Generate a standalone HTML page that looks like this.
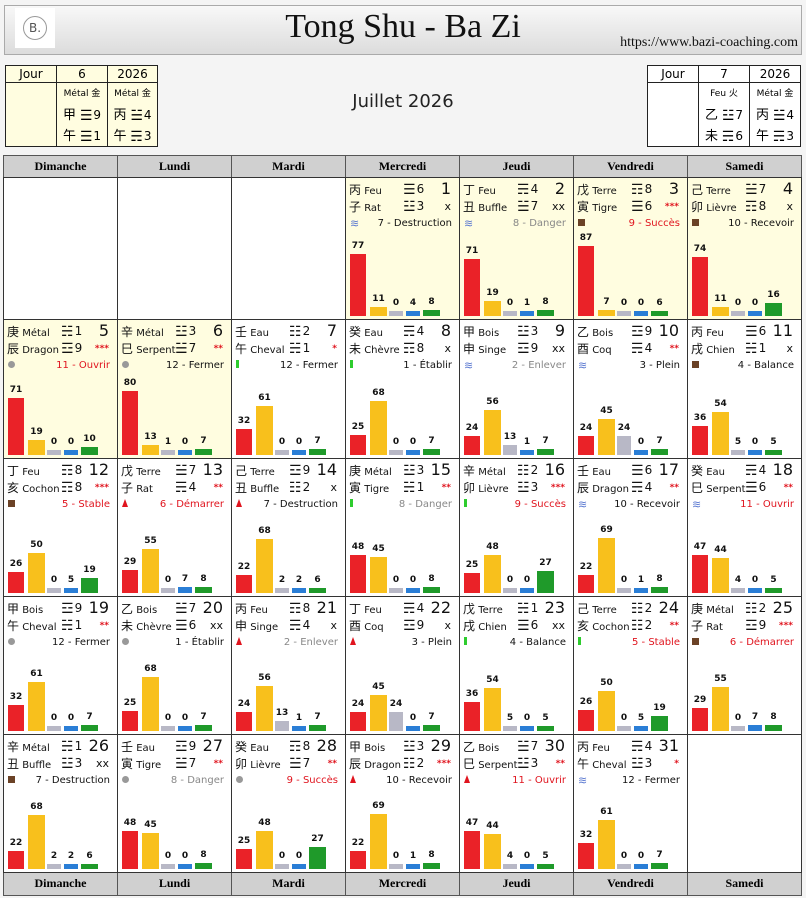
<!DOCTYPE html>
<html><head><meta charset="utf-8"><style>
body{margin:0;width:806px;height:898px;background:#f4f4f4;position:relative;overflow:hidden;font-family:"DejaVu Sans","Liberation Sans","Noto Sans CJK SC",sans-serif}
.a{position:absolute}
.hdr{left:4px;top:5px;width:796px;height:48px;border:1px solid #aaa;background:linear-gradient(#f8f8f8,#dcdcdc)}
.title{left:0;width:806px;top:8px;text-align:center;font:34px "Liberation Serif",serif;color:#111}
.url{right:8px;top:35px;font:14px "Liberation Serif",serif;color:#111}
.logo{left:15px;top:8px;width:40px;height:40px;background:#fff}
.jb{border-collapse:collapse;background:#fffde0;position:absolute;font-size:12px}
.jb td{border:1px solid #222;text-align:center;padding:0;height:16px}
.jb .cj{font-size:13px}
.c{position:absolute;border:1px solid #333;box-sizing:border-box;background:#fff;font-size:10px;color:#111}
.y{background:#fffde0}
.dh{position:absolute;background:#d0d0d0;border:1px solid #555;box-sizing:border-box;font:bold 12px "Liberation Serif",serif;text-align:center;line-height:21px}
.cj{font-family:"Noto Sans CJK SC",sans-serif;font-size:12px}
.tg{font-size:12px}
.tr{display:inline-block;font-size:14px;font-weight:bold;line-height:14px;vertical-align:-1px;margin-right:1px}
.bl{position:absolute;font:bold 9px "DejaVu Sans",sans-serif;text-align:center;width:20px}
</style></head><body>
<div class="a hdr"></div>
<div class="a logo"><div class="a" style="left:8px;top:8px;width:22px;height:22px;border:1px solid #999;border-radius:50%;font:12px 'DejaVu Sans';text-align:center;line-height:22px;color:#555">B.</div></div>
<div class="a title">Tong Shu - Ba Zi</div>
<div class="a url">https://www.bazi-coaching.com</div>
<table class="jb" style="left:5px;top:65px;width:153px"><tr><td style="width:50px">Jour</td><td style="width:50px">6</td><td>2026</td></tr>
<tr><td style="height:58px"></td><td style="line-height:19px"><span style="font-size:9px">Métal 金</span><br><span class="cj">甲</span> <span class="tr">☰</span>9<br><span class="cj">午</span> <span class="tr">☰</span>1</td><td style="line-height:19px"><span style="font-size:9px">Métal 金</span><br><span class="cj">丙</span> <span class="tr">☱</span>4<br><span class="cj">午</span> <span class="tr">☴</span>3</td></tr></table>
<table class="jb" style="left:647px;top:65px;width:154px;background:#fff"><tr><td style="width:50px">Jour</td><td style="width:50px">7</td><td>2026</td></tr>
<tr><td style="height:58px"></td><td style="line-height:19px"><span style="font-size:9px">Feu 火</span><br><span class="cj">乙</span> <span class="tr">☳</span>7<br><span class="cj">未</span> <span class="tr">☴</span>6</td><td style="line-height:19px"><span style="font-size:9px">Métal 金</span><br><span class="cj">丙</span> <span class="tr">☱</span>4<br><span class="cj">午</span> <span class="tr">☴</span>3</td></tr></table>
<div class="a" style="left:0;width:806px;top:91px;text-align:center;font-size:18px;color:#222">Juillet 2026</div>
<div id="cal"></div>
<script>
var X=[3,117,231,345,459,573,687,801],RT=[177,319,458,596,734,872];
var days=["Dimanche","Lundi","Mardi","Mercredi","Jeudi","Vendredi","Samedi"];
var D=[
[3,0,"丙","Feu",6,"子","Rat",3,"x","w","7 - Destruction","k",[77,11,0,4,8]],
[4,0,"丁","Feu",4,"丑","Buffle",7,"xx","w","8 - Danger","g",[71,19,0,1,8]],
[5,0,"戊","Terre",8,"寅","Tigre",6,"***","s","9 - Succès","r",[87,7,0,0,6]],
[6,0,"己","Terre",7,"卯","Lièvre",8,"x","s","10 - Recevoir","k",[74,11,0,0,16]],
[0,1,"庚","Métal",1,"辰","Dragon",9,"***","o","11 - Ouvrir","r",[71,19,0,0,10]],
[1,1,"辛","Métal",3,"巳","Serpent",7,"**","o","12 - Fermer","k",[80,13,1,0,7]],
[2,1,"壬","Eau",2,"午","Cheval",1,"*","v","12 - Fermer","k",[32,61,0,0,7]],
[3,1,"癸","Eau",4,"未","Chèvre",8,"x","v","1 - Établir","k",[25,68,0,0,7]],
[4,1,"甲","Bois",3,"申","Singe",9,"xx","w","2 - Enlever","g",[24,56,13,1,7]],
[5,1,"乙","Bois",9,"酉","Coq",4,"**","w","3 - Plein","k",[24,45,24,0,7]],
[6,1,"丙","Feu",6,"戌","Chien",1,"x","s","4 - Balance","k",[36,54,5,0,5]],
[0,2,"丁","Feu",8,"亥","Cochon",8,"***","s","5 - Stable","r",[26,50,0,5,19]],
[1,2,"戊","Terre",7,"子","Rat",4,"**","t","6 - Démarrer","r",[29,55,0,7,8]],
[2,2,"己","Terre",9,"丑","Buffle",2,"x","t","7 - Destruction","k",[22,68,2,2,6]],
[3,2,"庚","Métal",3,"寅","Tigre",1,"**","v","8 - Danger","g",[48,45,0,0,8]],
[4,2,"辛","Métal",2,"卯","Lièvre",3,"***","v","9 - Succès","r",[25,48,0,0,27]],
[5,2,"壬","Eau",6,"辰","Dragon",4,"**","w","10 - Recevoir","k",[22,69,0,1,8]],
[6,2,"癸","Eau",4,"巳","Serpent",6,"**","w","11 - Ouvrir","r",[47,44,4,0,5]],
[0,3,"甲","Bois",9,"午","Cheval",1,"**","o","12 - Fermer","k",[32,61,0,0,7]],
[1,3,"乙","Bois",7,"未","Chèvre",6,"xx","o","1 - Établir","k",[25,68,0,0,7]],
[2,3,"丙","Feu",8,"申","Singe",4,"x","t","2 - Enlever","g",[24,56,13,1,7]],
[3,3,"丁","Feu",4,"酉","Coq",9,"x","t","3 - Plein","k",[24,45,24,0,7]],
[4,3,"戊","Terre",1,"戌","Chien",6,"xx","v","4 - Balance","k",[36,54,5,0,5]],
[5,3,"己","Terre",2,"亥","Cochon",2,"**","v","5 - Stable","r",[26,50,0,5,19]],
[6,3,"庚","Métal",2,"子","Rat",9,"***","s","6 - Démarrer","r",[29,55,0,7,8]],
[0,4,"辛","Métal",1,"丑","Buffle",3,"xx","s","7 - Destruction","k",[22,68,2,2,6]],
[1,4,"壬","Eau",9,"寅","Tigre",7,"**","o","8 - Danger","g",[48,45,0,0,8]],
[2,4,"癸","Eau",8,"卯","Lièvre",7,"**","o","9 - Succès","r",[25,48,0,0,27]],
[3,4,"甲","Bois",3,"辰","Dragon",2,"***","t","10 - Recevoir","k",[22,69,0,1,8]],
[4,4,"乙","Bois",7,"巳","Serpent",3,"**","t","11 - Ouvrir","r",[47,44,4,0,5]],
[5,4,"丙","Feu",4,"午","Cheval",3,"*","w","12 - Fermer","k",[32,61,0,0,7]]
];
var TG={1:"☵",2:"☷",3:"☳",4:"☴",6:"☰",7:"☱",8:"☶",9:"☲"};
var h="";
for(var i=0;i<7;i++){h+='<div class="dh" style="left:'+X[i]+'px;top:155px;width:'+(X[i+1]-X[i]+1)+'px;height:23px">'+days[i]+'</div>';
h+='<div class="dh" style="left:'+X[i]+'px;top:872px;width:'+(X[i+1]-X[i]+1)+'px;height:24px">'+days[i]+'</div>';}
var filled={};
D.forEach(function(d,k){filled[d[0]+","+d[1]]=1;});
for(var r=0;r<5;r++)for(var c=0;c<7;c++){if(!filled[c+","+r])h+='<div class="c" style="left:'+X[c]+'px;top:'+RT[r]+'px;width:'+(X[c+1]-X[c]+1)+'px;height:'+(RT[r+1]-RT[r]+1)+'px"></div>';}
var col={k:"#111",g:"#888",r:"#e0141e"};
var icon={w:'<span style="color:#5a78d0;font-size:11px">≋</span>',s:'<span style="display:inline-block;width:7px;height:7px;background:#6b4226;margin-top:2px"></span>',o:'<span style="display:inline-block;width:7px;height:7px;border-radius:50%;background:#999;margin-top:2px"></span>',v:'<span style="display:inline-block;width:3px;height:8px;background:#2ecc2e;margin-top:1px"></span>',t:'<span style="display:inline-block;width:0;height:0;border-left:3px solid transparent;border-right:3px solid transparent;border-bottom:8px solid #e0141e;margin-top:1px"></span>'};
var BX=[[4,16],[24,17],[43,14],[60,14],[77,17]],BC=["#ea2228","#f8c01c","#b8b8c6","#2a7ed6","#1f9a2a"];
D.forEach(function(d,k){var c=d[0],r=d[1],x=X[c],y=RT[r],w=X[c+1]-x+1,hh=RT[r+1]-y+1;
var yel=(k<6)?" y":"";
var s='<div class="c'+yel+'" style="left:'+x+'px;top:'+y+'px;width:'+w+'px;height:'+hh+'px">';
s+='<div class="a" style="left:3px;top:3px;line-height:17px"><span class="cj">'+d[2]+'</span> '+d[3]+'</div>';
s+='<div class="a" style="left:3px;top:20px;line-height:17px"><span class="cj">'+d[5]+'</span> '+d[6]+'</div>';
s+='<div class="a tg" style="left:57px;top:3px;line-height:17px"><span class="tr">'+TG[d[4]]+'</span>'+d[4]+'</div>';
s+='<div class="a tg" style="left:57px;top:20px;line-height:17px"><span class="tr">'+TG[d[7]]+'</span>'+d[7]+'</div>';
s+='<div class="a" style="right:8px;top:2px;font-size:16px;line-height:18px">'+(k+1)+'</div>';
var st=d[8].indexOf("*")>=0;
s+='<div class="a" style="right:8px;top:21px;line-height:16px;'+(st?'color:#e0141e;font-size:9px;font-weight:bold':'font-size:11px')+'">'+d[8]+'</div>';
s+='<div class="a" style="left:4px;top:39px;line-height:14px">'+icon[d[9]]+'</div>';
s+='<div class="a" style="right:7px;top:39px;line-height:14px;font-size:10px;color:'+col[d[11]]+'">'+d[10]+'</div>';
var base=hh-5;
d[12].forEach(function(v,j){var bh=Math.max(5,Math.round(v*0.8));
s+='<div class="a" style="left:'+BX[j][0]+'px;top:'+(base-bh)+'px;width:'+BX[j][1]+'px;height:'+bh+'px;background:'+BC[j]+'"></div>';
s+='<div class="bl" style="left:'+(BX[j][0]+BX[j][1]/2-10)+'px;top:'+(base-bh-13)+'px">'+v+'</div>';});
s+='</div>';h+=s;});
document.getElementById("cal").innerHTML=h;
</script>
</body></html>
